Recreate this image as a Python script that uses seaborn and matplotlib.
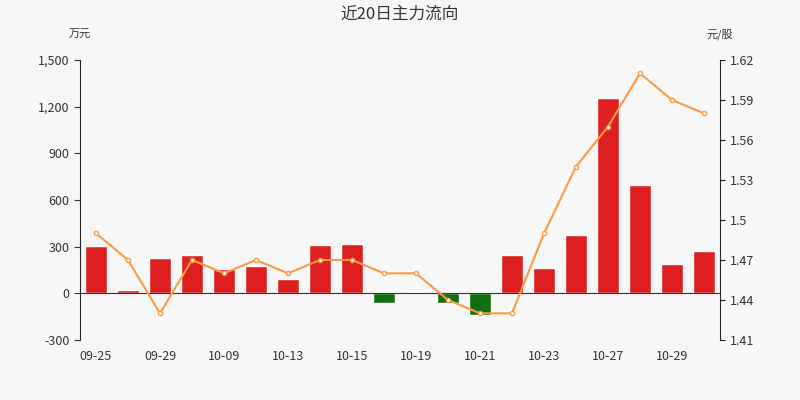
import matplotlib.pyplot as plt
import seaborn as sns
import pandas as pd

dates = ["09-25", "09-26", "09-29", "09-30", "10-09", "10-10", "10-13", "10-14", "10-15", "10-16",
         "10-19", "10-20", "10-21", "10-22", "10-23", "10-24", "10-27", "10-28", "10-29", "10-30"]
flow = [303, 20, 225, 245, 155, 175, 90, 310, 315, -65,
        10, -60, -140, 245, 160, 375, 1255, 695, 190, 275]
price = [1.49, 1.47, 1.43, 1.47, 1.46, 1.47, 1.46, 1.47, 1.47, 1.46,
         1.46, 1.44, 1.43, 1.43, 1.49, 1.54, 1.57, 1.61, 1.59, 1.58]

sns.set_style("white")
plt.rcParams['font.family'] = ['Noto Sans CJK SC', 'DejaVu Sans']

df = pd.DataFrame({"date": dates, "flow": flow, "price": price})
colors = ["#ff0000" if v >= 0 else "#008000" for v in flow]

fig = plt.figure(figsize=(8, 4), dpi=100, facecolor="#f7f7f7")
ax = fig.add_axes([0.1, 0.15, 0.8, 0.70])
ax.set_facecolor("#f7f7f7")
sns.barplot(data=df, x="date", y="flow", hue="date", palette=colors, legend=False,
            width=0.7, ax=ax)
ax.set_ylim(-300, 1500)
ax.set_yticks(range(-300, 1501, 300))
ax.set_yticklabels([f"{v:,}" for v in range(-300, 1501, 300)], fontsize=9)
ax.set_xticks(range(0, 20, 2))
ax.set_xticklabels(dates[::2], fontsize=9)
ax.set_xlim(-0.5, 19.5)
ax.set_xlabel("")
ax.set_ylabel("")
ax.axhline(0, color="#333333", lw=0.8)
for s in ["top"]:
    ax.spines[s].set_visible(False)
ax.spines["right"].set_visible(False)
ax.spines["bottom"].set_visible(False)
ax.tick_params(axis="both", length=4, color="#333333", labelcolor="#333333")

ax2 = ax.twinx()
ax2.plot(range(20), price, color="#ff9944", lw=1.5, marker="o", markersize=3,
         markerfacecolor="white", markeredgecolor="#ff9944")
ax2.set_ylim(1.41, 1.62)
ticks = [1.41, 1.44, 1.47, 1.5, 1.53, 1.56, 1.59, 1.62]
ax2.set_yticks(ticks)
ax2.set_yticklabels([f"{t:g}" for t in ticks], fontsize=9, color="#333333")
for s in ["top", "left", "bottom"]:
    ax2.spines[s].set_visible(False)

fig.text(0.5, 0.965, "近20日主力流向", ha="center", va="center", fontsize=12, color="#333333")
fig.text(0.1, 0.905, "万元", ha="center", fontsize=8, color="#333333")
fig.text(0.9, 0.905, "元/股", ha="center", fontsize=8, color="#333333")

fig.savefig("out.png", facecolor=fig.get_facecolor())
